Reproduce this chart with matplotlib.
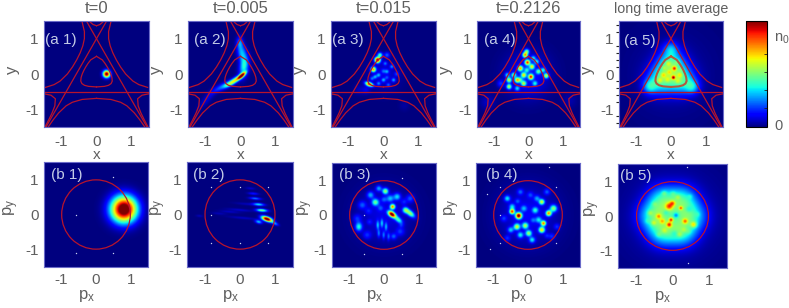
import matplotlib
matplotlib.use('Agg')
import numpy as np
import matplotlib.pyplot as plt
from matplotlib.patches import Circle

plt.rcParams['font.family'] = ['Liberation Sans', 'DejaVu Sans']
plt.rcParams['mathtext.default'] = 'regular'

titles = ['t=0', 't=0.005', 't=0.015', 't=0.2126', 'long time average']
title_sizes = [12, 12, 12, 12, 10.3]
a_tags = ['(a 1)', '(a 2)', '(a 3)', '(a 4)', '(a 5)']
b_tags = ['(b 1)', '(b 2)', '(b 3)', '(b 4)', '(b 5)']
ticks = [-1, 0, 1]
tick_labels = ['-1', '0', '1']

inner_x = [0, .165, .243, .307, .362, .408, .44, .45, .418, .344, .227, 0]
inner_y = [.5, .4, .3, .2, .1, 0, -.1, -.2, -.27, -.32, -.35, -.366]
top_x = [0, .097, .157, .204]
top_y = [1.366, 1.4, 1.45, 1.5]
corner_x = [1.5, 1.3, 1.175, 1.19, 1.268, 1.367, 1.472]
corner_y = [-.56, -.6, -.7, -.9, -1.1, -1.3, -1.5]
bottom_x = [0, .41, .69, .867, 1.08, 1.24, 1.38]
bottom_y = [-.69, -.72, -.8, -.9, -1.1, -1.3, -1.5]
side_x = [.417, .345, .346, .39, .466, .566, .686, .833, 1.04, 1.21, 1.46]
side_y = [1.5, 1.2, 1.0, .8, .6, .4, .2, 0, -.2, -.3, -.38]
cross_x = [-1.443, .289]
cross_y = [-1.5, 1.5]
flat_x = [-1.5, 1.5]
flat_y = [-.5, -.5]
fermi_radius = 0.99

# bright spots: x, y, amplitude, sigma, [sigma2, angle]
a1_spots = [(.29, 0, 1.05, .07)]
a2_spots = [(.03, -.05, 1.0, .1, .035, 40), (-.16, -.18, .55, .14, .05, 35),
            (-.35, -.3, .3, .12, .05, 30), (.1, .2, .36, .2, .09, 80),
            (.04, .6, .3, .2, .09, 100), (-.02, .9, .2, .11, .06, 90),
            (-.55, -.37, .2, .2, .06, 30), (-.95, -.7, .08, .25, .07, 50)]
a3_spots = [(0, 0, .08, .32), (-.17, .4, 1.0, .055), (-.29, .13, .72, .05),
            (-.41, -.29, .85, .08, .04, -20),
            (.1, .54, .2, .055), (-.1, .54, .42, .05), (-.14, -.03, .25, .04),
            (.1, .07, .22, .04), (.24, .21, .22, .04), (0, -.17, .25, .04),
            (.29, -.17, .25, .04), (-.33, -.13, .2, .04), (.14, -.31, .18, .04),
            (-.14, -.27, .22, .04), (.05, .3, .2, .04), (-.24, -.08, .25, .04),
            (.38, 0, .16, .045), (.1, -.1, .14, .04), (0, .08, .16, .045),
            (-.5, -.45, .08, .08), (.6, -.9, .03, .1), (-.7, -.45, .05, .1)]
a4_spots = [(-.02, -.02, .14, .42), (-.10, .54, .7, .05), (-.03, .33, .8, .05),
            (-.24, .16, .65, .05), (.10, .21, .55, .05), (-.14, -.03, .55, .05),
            (.07, -.08, .8, .05), (-.33, -.17, .6, .05), (.29, .07, .38, .05),
            (.52, -.05, .55, .05), (-.57, -.17, .55, .05), (-.57, -.36, .55, .05),
            (-.14, -.27, .5, .05), (.19, -.27, .3, .05), (.43, .11, .32, .05),
            (.24, .35, .3, .05), (-.43, -.03, .4, .05), (-.05, .11, .28, .05),
            (-.62, -.03, .3, .05), (-.24, -.17, .28, .05), (.14, .45, .3, .05),
            (-.05, .64, .45, .05), (-.33, -.41, .28, .05), (-.81, -.27, .16, .07),
            (-1.2, -.8, .06, .15), (1.2, -.75, .04, .15)]
a5_spots = [(0, .3, .37, .27), (-.3, -.17, .37, .27), (.3, -.17, .37, .27),
            (0, .72, .2, .14), (-.62, -.36, .24, .14), (.62, -.36, .24, .14),
            (0, 0, .04, .8),
            (.07, -.1, .5, .035), (.1, .16, .38, .04), (-.22, -.03, .16, .05),
            (-.08, .3, .14, .05), (.26, -.03, .16, .05), (-.32, -.18, .16, .05),
            (.18, .34, .1, .05), (-.1, -.16, .12, .05), (.2, -.2, .12, .05),
            (-.05, .05, .12, .04), (.3, .12, .08, .04), (-.2, .18, .1, .04)]
b1_spots = [(.81, .15, 1.15, .26)]
b2_spots = [(.77, -.13, 1.15, .11, .045, -20), (.53, -.21, .32, .07, .035, -15),
            (1.0, -.26, .25, .07, .03, -25), (.62, .12, .5, .11, .03, -5),
            (.53, .29, .35, .11, .028, -5), (.43, .46, .25, .11, .025, -5),
            (.38, .6, .15, .1, .025, -5), (.3, .75, .07, .09, .025, -5),
            (0, .13, .07, .25, .025, -5), (-.3, .08, .06, .2, .025, -5),
            (-.6, .03, .05, .15, .025, -5), (-1.15, -.04, .05, .07, .025, -5),
            (.1, -.1, .06, .3, .025, -5), (.2, .3, .05, .25, .025, -5)]
b3_spots = [(0, 0, .09, .55), (.23, .02, 1.05, .085, .05, -35), (.25, .24, .72, .05),
            (.04, .69, .5, .06), (-.25, .37, .42, .07), (.76, .05, .5, .11, .055, -40),
            (.62, .14, .36, .06), (-.73, -.34, .36, .07, .09, 0), (.38, .53, .3, .07),
            (-.15, .77, .26, .06), (-.39, .58, .26, .07), (.18, .48, .26, .07),
            (.42, -.14, .36, .09, .05, -40),
            (-.18, -.29, .26, .03, .09, 0), (-.06, -.24, .26, .03, .09, 0),
            (.06, -.34, .24, .03, .09, 0), (-.15, -.53, .2, .03, .08, 0),
            (-.01, -.58, .2, .03, .08, 0), (.13, -.62, .18, .03, .08, 0),
            (-.63, .29, .18, .08), (-.78, -.1, .14, .08), (.47, -.48, .14, .08),
            (.76, .48, .18, .08), (-.49, -.58, .14, .08), (.28, -.62, .18, .06),
            (-.1, .2, .14, .06), (0, .45, .16, .06), (-.45, .12, .1, .06),
            (.58, .38, .12, .06), (.5, -.3, .1, .05), (-.42, -.2, .1, .05)]
b4_spots = [(0, 0, .11, .58), (-.27, -.02, 1.0, .06), (-.46, .1, .8, .05),
            (.6, .05, .72, .055), (.45, -.24, .72, .05), (.4, -.43, .62, .06),
            (.4, .38, .55, .055), (.74, .19, .48, .07), (-.32, -.34, .55, .06),
            (-.08, -.31, .48, .06), (.02, -.53, .48, .06), (-.22, -.58, .32, .06),
            (.12, -.72, .32, .06), (-.6, .48, .32, .06), (-.46, .24, .28, .06),
            (-.12, .19, .22, .06), (.21, .14, .32, .06), (.26, .48, .22, .06),
            (.55, .67, .18, .06), (-.22, .67, .18, .06), (-.5, -.43, .28, .06),
            (-.7, -.1, .14, .06), (.84, -.34, .14, .06), (.31, -.14, .28, .06),
            (.07, .58, .14, .06), (.69, -.62, .14, .06), (-.6, -.67, .14, .06),
            (-.3, .4, .14, .05), (.55, -.6, .12, .05), (.15, -.15, .14, .05)]
b5_spots = [(0, 0, .16, .4), (.55, 0, .27, .28), (-.55, 0, .29, .28), (.28, .48, .28, .28),
            (-.28, .48, .28, .28), (.28, -.48, .28, .28), (-.28, -.48, .28, .28),
            (0, 0, .06, 1.0),
            (-.09, .28, .36, .07), (0, .37, .28, .05), (.23, .23, .32, .035),
            (-.04, -.11, .42, .04), (-.09, -.25, .4, .05), (.35, -.15, .3, .05),
            (.59, -.25, .28, .06), (-.38, -.01, .24, .05), (-.28, -.15, .22, .05),
            (-.52, -.2, .14, .05), (-.23, .66, .12, .05), (.49, .57, .08, .05),
            (-.62, .09, .12, .05), (.2, -.54, .1, .05), (-.38, -.54, .08, .05),
            (.15, .55, .1, .05), (-.5, .35, .08, .05), (.45, .2, -.1, .06),
            (.1, .02, -.2, .05), (-.18, .1, -.08, .05), (.05, -.5, -.08, .06),
            (.02, .65, .08, .05), (.32, -.4, .08, .05), (-.22, -.42, .1, .05),
            (.45, -.45, .06, .05), (-.7, -.15, .06, .05), (.7, .05, .06, .05)]
a_spots = [a1_spots, a2_spots, a3_spots, a4_spots, a5_spots]
b_spots = [b1_spots, b2_spots, b3_spots, b4_spots, b5_spots]

# the tiny white specks in the lower row
b1_dots_x, b1_dots_y = [.5, -.58, -.58, .5], [1.08, 0, -1.1, -1.1]
b2_dots_x, b2_dots_y = [-.82, 0, .8, -.82, -.82, 0, .8], [.8, .8, .8, 0, -.8, -.8, -.8]
b3_dots_x, b3_dots_y = [.52, -.57, .52, -.57], [1.08, -1.12, -1.12, 0]
b4_dots_x, b4_dots_y = [.62, -.82, .8, -.82, .8, -1.18, -1.1, -.82], [1.38, .8, .8, -.8, -.8, .6, -.98, 0]
b5_dots_x, b5_dots_y = [.4, .43], [1.4, -1.35]
dots_x = [b1_dots_x, b2_dots_x, b3_dots_x, b4_dots_x, b5_dots_x]
dots_y = [b1_dots_y, b2_dots_y, b3_dots_y, b4_dots_y, b5_dots_y]

W, H = 789, 308
a_boxes = [(44, 21, 105, 106), (188, 21, 105, 106), (331, 21, 105, 106),
           (477, 21, 103, 106), (619, 21, 104, 106)]
b_boxes = [(44, 162, 104, 105), (187, 162, 106, 105), (332, 163, 104, 104),
           (476, 163, 104, 104), (618, 164, 109, 104)]
a_tag_pos = [(.01, .825), (.055, .825), (.013, .82), (.07, .82), (.045, .81)]
b_tag_pos = [(.065, .88), (.06, .88), (.065, .88), (.095, .88), (.015, .88)]
py_label_x = [-.22, -.18, -.16, -.135, -.15]
GREY = '#5f5f5f'
LINE = '#b8142c'

grid = np.linspace(-1.5, 1.5, 240)
X, Y = np.meshgrid(grid, grid)


def density(spots):
    z = np.zeros_like(X)
    for s in spots:
        x0, y0, amp, s1 = s[:4]
        s2 = s[4] if len(s) > 4 else s1
        ang = np.radians(s[5]) if len(s) > 5 else 0.0
        u = (X - x0) * np.cos(ang) + (Y - y0) * np.sin(ang)
        v = -(X - x0) * np.sin(ang) + (Y - y0) * np.cos(ang)
        z += amp * np.exp(-u**2 / (2 * s1**2) - v**2 / (2 * s2**2))
    return z


def make_axes(fig, box, xpad):
    left, top, w, h = box
    ax = fig.add_axes([left / W, 1 - (top + h) / H, w / W, h / H])
    ax.set_xlim(-1.5, 1.5)
    ax.set_ylim(-1.5, 1.5)
    ax.set_xticks(ticks)
    ax.set_xticklabels(tick_labels)
    ax.set_yticks(ticks)
    ax.set_yticklabels(tick_labels)
    ax.tick_params(length=0, labelcolor=GREY, labelsize=11)
    ax.tick_params(axis='x', pad=xpad)
    ax.tick_params(axis='y', pad=4)
    for sp in ax.spines.values():
        sp.set_color('#6a6ac8')
        sp.set_linewidth(0.8)
    return ax


def draw_curves(ax, inner_color, inner_lw):
    for xs, ys in [(top_x, top_y), (corner_x, corner_y),
                   (bottom_x, bottom_y), (side_x, side_y), (cross_x, cross_y)]:
        xs = np.array(xs)
        ax.plot(xs, ys, color=LINE, lw=0.9)
        ax.plot(-xs, ys, color=LINE, lw=0.9)
    ax.plot(flat_x, flat_y, color=LINE, lw=0.9)
    xs = np.array(inner_x)
    ax.plot(xs, inner_y, color=inner_color, lw=inner_lw)
    ax.plot(-xs, inner_y, color=inner_color, lw=inner_lw)


fig = plt.figure(figsize=(W / 100, H / 100), dpi=100)
im = None
for i in range(5):
    ax = make_axes(fig, a_boxes[i], 5.5)
    im = ax.imshow(density(a_spots[i]), extent=(-1.5, 1.5, -1.5, 1.5), origin='lower',
                   cmap='jet', vmin=0, vmax=1, interpolation='bilinear', aspect='auto')
    if i == 4:
        draw_curves(ax, '#b4583c', 1.5)
    else:
        draw_curves(ax, LINE, 0.9)
    ax.set_title(titles[i], fontsize=title_sizes[i], color=GREY, pad=5.5)
    ax.text(a_tag_pos[i][0], a_tag_pos[i][1], a_tags[i], transform=ax.transAxes,
            color='#c3cbe6', fontsize=11, va='center')
    ax.set_xlabel('x', fontsize=11, color=GREY)
    ax.xaxis.set_label_coords(.5, -.2)
    ax.set_ylabel('y', fontsize=12, color=GREY)
    ax.yaxis.set_label_coords(-.23, .54)
    if i == 4:
        ax.set_yticks(np.arange(-1.4, 1.5, .2), minor=True)
        ax.tick_params(axis='y', which='minor', length=2, color='#222222', width=0.8)

    ax = make_axes(fig, b_boxes[i], 4)
    ax.imshow(density(b_spots[i]), extent=(-1.5, 1.5, -1.5, 1.5), origin='lower',
              cmap='jet', vmin=0, vmax=1, interpolation='bilinear', aspect='auto')
    ax.add_patch(Circle((0, 0), fermi_radius, fill=False, ec=LINE, lw=0.9))
    ax.scatter(dots_x[i], dots_y[i], s=1, c='#c8d0f0', linewidths=0)
    ax.text(b_tag_pos[i][0], b_tag_pos[i][1], b_tags[i], transform=ax.transAxes,
            color='#c3cbe6', fontsize=11, va='center')
    ax.set_xlabel('$p_x$', fontsize=12, color=GREY)
    ax.xaxis.set_label_coords(.41, -.2)
    ax.set_ylabel('$p_y$', fontsize=12, color=GREY)
    ax.yaxis.set_label_coords(py_label_x[i], .57)

# colour scale
cax = fig.add_axes([746 / W, 1 - 127 / H, 21 / W, 106 / H])
cbar = fig.colorbar(im, cax=cax)
cbar.set_ticks([.025, .85])
cbar.set_ticklabels(['0', '$n_0$'])
cbar.ax.set_yticks([.18, .35, .52, .69], minor=True)
cbar.ax.tick_params(which='major', length=0, labelcolor=GREY, labelsize=10.5, pad=5)
cbar.ax.tick_params(which='minor', length=2, direction='in', color='#222222', width=0.6)
cbar.outline.set_linewidth(0.8)

plt.savefig('out.png', dpi=100)
